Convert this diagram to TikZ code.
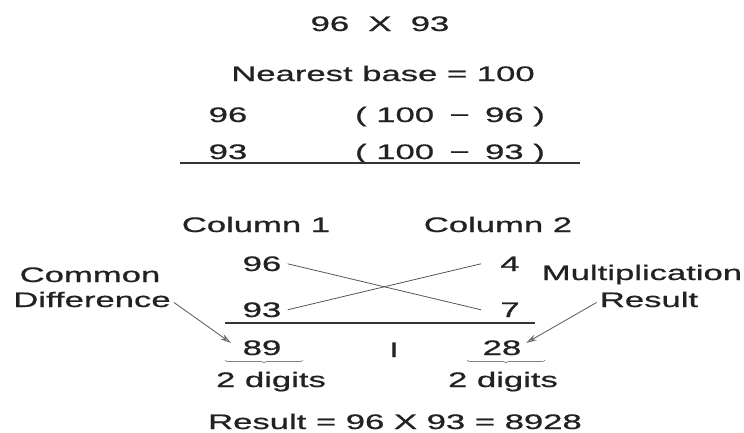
\documentclass[tikz,border=0pt]{standalone}
\usepackage{fontspec}
\setmainfont{Liberation Sans}
\newfontfamily\labelfont[FakeBold=0.6]{Liberation Sans}
\usetikzlibrary{arrows.meta,decorations.pathreplacing}
\definecolor{ink}{HTML}{222222}
\definecolor{rule}{HTML}{333333}
\definecolor{wire}{HTML}{555555}
\definecolor{pointer}{HTML}{666666}
\tikzset{
  txt/.style={inner sep=0pt, anchor=base, text=ink, xscale=1.65, transform shape,
              font=\labelfont\fontsize{21}{25}\selectfont},
  hrule/.style={draw=rule, line width=1.4pt},
  cross/.style={draw=wire, line width=0.8pt},
  pointarrow/.style={draw=pointer, line width=0.9pt,
     -{Stealth[length=11pt, width=6pt, fill=gray!35]}},
  digitbrace/.style={draw=gray, line width=0.7pt,
     decorate, decoration={brace, amplitude=3pt, mirror}},
}
\begin{document}
\begin{tikzpicture}[x=1pt, y=1pt]
\useasboundingbox (0,0) rectangle (744,-432);

% heading
\node[txt] (prob) at (380,-31) {96 \ X \ 93};
\node[txt] (base) at (383,-81) {Nearest base = 100};

% deviations from the base
\node[txt] (a1) at (228,-122) {96};
\node[txt] (d1) at (450,-122) {( 100 \,−\, 96 )};
\node[txt] (a2) at (228,-159) {93};
\node[txt] (d2) at (450,-159) {( 100 \,−\, 93 )};
\coordinate (r1l) at (180,-163);
\coordinate (r1r) at (580,-163);
\draw[hrule] (r1l) -- (r1r);

% column working
\node[txt] (c1) at (256,-232) {Column 1};
\node[txt] (c2) at (498,-232) {Column 2};
\node[txt] (l96) at (262,-271) {96};
\node[txt] (r4)  at (510,-271) {4};
\node[txt] (l93) at (262,-317) {93};
\node[txt] (r7)  at (510,-317) {7};

\draw[cross] ([xshift=6pt]l96.east) -- ([xshift=-19pt]r7.west);
\draw[cross] ([xshift=6pt]l93.east) -- ([xshift=-19pt]r4.west);

\coordinate (r2l) at (225,-323);
\coordinate (r2r) at (535,-323);
\draw[hrule] (r2l) -- (r2r);

\node[txt] (s89) at (262,-355) {89};
\node[txt] (sep) at (394,-357) {I};
\node[txt] (s28) at (502,-355) {28};

% side labels
\node[txt] (cm)   at (90,-282)  {Common};
\node[txt] (diff) at (92,-307)  {Difference};
\node[txt] (mul)  at (642,-280) {Multiplication};
\node[txt] (res)  at (649,-307) {Result};

\coordinate (tipL) at (231,-343);
\coordinate (tipR) at (526,-343);
\draw[pointarrow] ([xshift=3pt,yshift=-3pt]diff.east) -- (tipL);
\draw[pointarrow] ([xshift=-3pt,yshift=-3pt]res.west) -- (tipR);

% braces over the digit counts
\coordinate (bL1) at (225,-360);
\coordinate (bL2) at (303,-360);
\coordinate (bR1) at (467,-360);
\coordinate (bR2) at (545,-360);
\draw[digitbrace] (bL1) -- (bL2);
\draw[digitbrace] (bR1) -- (bR2);

\node[txt] (dg1) at (271,-387) {2 digits};
\node[txt] (dg2) at (503,-387) {2 digits};

\node[txt] (final) at (395,-429) {Result = 96 X 93 = 8928};
\end{tikzpicture}
\end{document}
